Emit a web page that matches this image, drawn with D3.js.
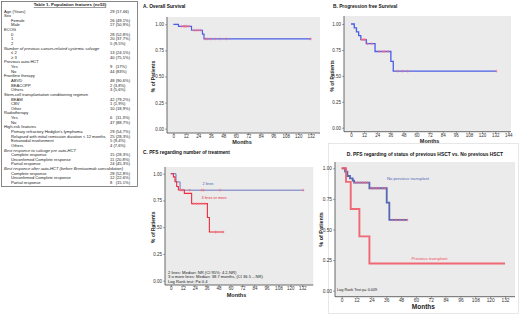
<!DOCTYPE html>
<html><head><meta charset="utf-8">
<script src="https://cdn.jsdelivr.net/npm/d3@7"></script>
<style>body{margin:0;background:#fff}svg{display:block;font-family:"Liberation Sans",Arial,sans-serif}</style>
</head><body><svg id="c" width="520" height="316"></svg>
<script>
// ---------- table data ----------
const tableTitle = "Table 1. Population features (n=53)";
const tableLabels = [
 "Age (Years)","Sex","Female","Male","ECOG","0","1","2",
 "Number of previous cancer-related systemic salvage","≤ 2","≥ 3",
 "Previous auto-HCT","Yes","No",
 "Frontline therapy","ABVD","BEACOPP","Others",
 "Stem-cell transplantation conditioning regimen","BEAM","CBV","Other",
 "Radiotherapy","Yes","No",
 "High-risk features","Primary refractory Hodgkin's lymphoma","Relapsed with initial remission duration < 12 months","Extranodal involvement","Others",
 "Best response to salvage pre auto-HCT","Complete response","Unconfirmed Complete response","Partial response",
 "Best response after auto-HCT (before Brentuximab consolidation)","Complete response","Unconfirmed Complete response","Partial response"
];
const tableValues = [
 "29 (17-66)","","26 (49,1%)","27 (50,9%)","","28 (52,8%)","20 (37,7%)","5 (9,5%)",
 "","13 (24,5%)","40 (75,5%)",
 "","9   (17%)","44 (83%)",
 "","48 (90,6%)","2 (3,8%)","3 (5,6%)",
 "","42 (79,2%)","1 (1,9%)","10 (18,9%)",
 "","6   (11,3%)","47 (88,7%)",
 "","29 (54,7%)","25 (28,3%)","5 (9,4%)","4 (7,6%)",
 "","15 (28,3%)","11 (20,8%)","24 (45,3%)",
 "","28 (52,8%)","12 (22,6%)","8   (15,1%)"
];
const tableLevel = [0,0,1,1,0,1,1,1, 2,1,1, 0,1,1, 0,1,1,1, 0,1,1,1, 0,1,1, 0,1,1,1,1, 2,1,1,1, 2,1,1,1];

// ---------- survival data ----------
const survTicks = [0,0.25,0.5,0.75,1];
const monthTicks132 = [0,12,24,36,48,60,72,84,96,108,120,132];
const monthTicks144 = [0,12,24,36,48,60,72,84,96,108,120,132,144];

// A. Overall survival
const osTimes = [0,5,17.5,28,29.5];
const osSurv  = [1,0.981,0.943,0.905,0.86];
const osEnd = 132;
const osCensor = [8,10,11,12,13,15,20,22,24,26,31,33,36,40,45,51,132];

// B. Progression free survival
const pfsTimes = [0,3,5,7,9,14,22,36.5,38.7];
const pfsSurv  = [1,0.962,0.925,0.887,0.85,0.81,0.735,0.64,0.545];
const pfsEnd = 133;
const pfsCensor = [10,11,12,13,15,19,26,29,31,34,43,47,52,133];

// C. PFS by number of treatment lines
const c2Times = [0,5.3,9.4];
const c2Surv  = [1,0.923,0.846];
const c2End = 133;
const c2Censor = [19,31,33,49.5,133];
const c3Times = [0,2.7,4.3,6,7.7,13.7,21,36.8,38.8];
const c3Surv  = [1,0.97,0.925,0.88,0.847,0.816,0.72,0.59,0.455];
const c3End = 52.8;
const c3Censor = [10,12,23,26,28,31,34,45,52.8];

// D. PFS by previous HSCT
const dNoTimes = [0,2.7,4.6,6.7,8.9,10,22.4,36.4,38.5];
const dNoSurv  = [1,0.973,0.937,0.918,0.9,0.883,0.837,0.72,0.578];
const dNoEnd = 53;
const dNoCensor = [11,13,15,17,19,21,24,26,28,30,33,35,41,44,47,50,53];
const dPrevTimes = [0,3.5,7.3,14.3,22.4];
const dPrevSurv  = [1,0.889,0.667,0.444,0.222];
const dPrevEnd = 132;

// ---------- drawing ----------
const svg = d3.select("#c");

// Table
const tg = svg.append("g");
tg.append("rect").attr("x",1.5).attr("y",1.5).attr("width",136).attr("height",185)
  .attr("fill","#fff").attr("stroke","#555").attr("stroke-width",0.7);
tg.append("text").attr("x",70).attr("y",6).attr("text-anchor","middle")
  .attr("font-size",4.4).attr("font-weight","bold").attr("text-decoration","underline")
  .attr("fill","#222").text(tableTitle);
const rowY = d3.scaleLinear().domain([0,tableLabels.length-1]).range([12.5,184]);
tableLabels.forEach((lab,i)=>{
  tg.append("text").attr("x",tableLevel[i]===1?11:4).attr("y",rowY(i))
    .attr("font-size",4.1).attr("fill","#222")
    .attr("font-style",tableLevel[i]===2?"italic":"normal").text(lab);
  if(tableValues[i]) tg.append("text").attr("x",110).attr("y",rowY(i))
    .attr("font-size",4.1).attr("fill","#222").attr("xml:space","preserve").text(tableValues[i]);
});

function survAt(times,surv,t){let s=surv[0];for(let i=0;i<times.length;i++){if(times[i]<=t)s=surv[i];}return s;}

function panel(o){
  const g = svg.append("g");
  const [bx0,by0,bx1,by1] = o.bg;
  g.append("rect").attr("x",bx0).attr("y",by0).attr("width",bx1-bx0).attr("height",by1-by0).attr("fill","#ebebeb");
  const x = d3.scaleLinear().domain([0,o.xMax]).range(o.xr);
  const y = d3.scaleLinear().domain([0,1]).range(o.yr);
  const fs = o.fs||4.5;
  const ax = g.append("g").attr("transform",`translate(0,${by1})`)
    .call(d3.axisBottom(x).tickValues(o.xTicks).tickSize(2).tickSizeOuter(0).tickFormat(d3.format("d")));
  const ay = g.append("g").attr("transform",`translate(${bx0},0)`)
    .call(d3.axisLeft(y).tickValues(survTicks).tickSize(2).tickSizeOuter(0).tickFormat(d3.format(".2f")));
  [ax,ay].forEach(a=>{a.select(".domain").remove();a.selectAll("line").attr("stroke","#555").attr("stroke-width",0.5);
    a.selectAll("text").attr("font-size",fs).attr("fill","#333").attr("font-family","Liberation Sans, Arial, sans-serif");});
  ax.selectAll("text").attr("y",1.5).attr("dy","0.75em");
  ay.selectAll("text").attr("x",-3);
  g.append("line").attr("x1",bx0).attr("x2",bx1).attr("y1",by1).attr("y2",by1).attr("stroke","#444").attr("stroke-width",0.8);
  g.append("line").attr("x1",bx0).attr("x2",bx0).attr("y1",by0).attr("y2",by1).attr("stroke","#444").attr("stroke-width",0.8);
  g.append("text").attr("x",(o.xr[0]+o.xr[1])/2).attr("y",o.monthsY).attr("text-anchor","middle")
    .attr("font-size",o.mfs||5.5).attr("font-weight","bold").attr("fill","#222").text("Months");
  g.append("text").attr("transform",`translate(${o.ylabX},${(o.yr[0]+o.yr[1])/2}) rotate(-90)`)
    .attr("text-anchor","middle").attr("font-size",o.yfs||5).attr("font-weight","bold").attr("fill","#222").text("% of Patients");
  g.append("text").attr("x",o.titleX).attr("y",o.titleY).attr("text-anchor",o.titleAnchor||"start")
    .attr("font-size",o.tfs||4.8).attr("font-weight","bold").attr("fill","#111").text(o.title);
  const line = d3.line().x(d=>x(d[0])).y(d=>y(d[1])).curve(d3.curveStepAfter);
  o.series.forEach(s=>{
    const pts = s.times.map((t,i)=>[t,s.surv[i]]);
    pts.push([s.end,s.surv[s.surv.length-1]]);
    g.append("path").attr("d",line(pts)).attr("fill","none").attr("stroke",s.color)
      .attr("stroke-width",s.w||1.2).attr("stroke-opacity",s.op||1);
    (s.censor||[]).forEach(t=>{
      const cx=x(t), cy=y(survAt(s.times,s.surv,t));
      g.append("line").attr("x1",cx).attr("x2",cx).attr("y1",cy-1.4).attr("y2",cy+1.4).attr("stroke",s.cColor).attr("stroke-width",0.6);
      g.append("line").attr("x1",cx-1).attr("x2",cx+1).attr("y1",cy).attr("y2",cy).attr("stroke",s.cColor).attr("stroke-width",0.9);
    });
  });
  (o.texts||[]).forEach(t=>{
    g.append("text").attr("x",t.x).attr("y",t.y).attr("font-size",t.fs||4.2).attr("fill",t.color||"#222").text(t.text);
  });
  return g;
}

const blueA = "#4a5ee6", pinkC = "#f0668a";
panel({bg:[167,17,320,133], xMax:132, xr:[173.3,310.7], yr:[128.7,24.3], xTicks:monthTicks132,
  monthsY:144, ylabX:155, title:"A. Overall Survival", titleX:143, titleY:7.5,
  series:[{times:osTimes,surv:osSurv,end:osEnd,censor:osCensor,color:blueA,cColor:pinkC,w:1.2}]});

panel({bg:[344,16,511,131.7], xMax:144, xr:[351,508.3], yr:[127.7,24], xTicks:monthTicks144,
  monthsY:143, ylabX:334, title:"B. Progression free Survival", titleX:333, titleY:7.5,
  series:[{times:pfsTimes,surv:pfsSurv,end:pfsEnd,censor:pfsCensor,color:blueA,cColor:pinkC,w:1.3}]});

panel({bg:[165,167,313.3,285], xMax:132, xr:[170.7,302.3], yr:[280.7,173.7], xTicks:monthTicks132,
  monthsY:296.5, ylabX:155, title:"C. PFS regarding number of treatment", titleX:143, titleY:153.5,
  series:[
    {times:c2Times,surv:c2Surv,end:c2End,censor:c2Censor,color:"#6a76c0",cColor:"#f07080",w:1},
    {times:c3Times,surv:c3Surv,end:c3End,censor:c3Censor,color:"#ee2a3c",cColor:"#f07080",w:1.1}],
  texts:[
    {x:202.5,y:185,text:"2 lines",color:"#4a5ab8",fs:3.8},
    {x:201.5,y:199,text:"3 lines or more",color:"#e83040",fs:3.8},
    {x:168,y:273.5,text:"2 lines: Median: NR (CI 95%: 4.2-NR)",fs:4.1},
    {x:168,y:278.3,text:"3 o more lines: Median: 38.7 months, (CI 36.5 – NR)",fs:4.1},
    {x:168,y:283.1,text:"Log Rank test: P= 0.4",fs:4.1}]});

svg.append("rect").attr("x",328.5).attr("y",143.5).attr("width",190).attr("height",170)
  .attr("fill","none").attr("stroke","#d8d8d8").attr("stroke-width",0.6);
panel({bg:[335,162,515,296.7], xMax:132, xr:[341.7,505], yr:[290.7,168.3], xTicks:monthTicks132,
  monthsY:309, mfs:6.5, ylabX:322.5, yfs:5.5, fs:4.8, title:"D. PFS regarding of status of previous HSCT vs. No previous HSCT",
  titleX:425, titleY:155.5, titleAnchor:"middle", tfs:4.9,
  series:[
    {times:dNoTimes,surv:dNoSurv,end:dNoEnd,censor:dNoCensor,color:"#5468b4",cColor:"#e86a8a",w:1.8},
    {times:dPrevTimes,surv:dPrevSurv,end:dPrevEnd,censor:[],color:"#f25a68",cColor:"#f25a68",w:1.9,op:0.9}],
  texts:[
    {x:387,y:179.5,text:"No previous transplant",color:"#5468b4",fs:4.2},
    {x:411.5,y:260,text:"Previous transplant",color:"#f04a5a",fs:4.2},
    {x:337,y:290.5,text:"Log Rank Test p= 0.009",fs:3.8}]});
</script></body></html>
